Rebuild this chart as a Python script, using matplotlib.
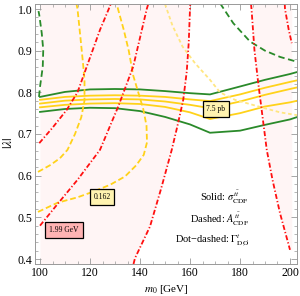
import matplotlib
matplotlib.use("Agg")
import matplotlib.pyplot as plt
from matplotlib.ticker import MultipleLocator

plt.rcParams['font.family'] = ['Liberation Serif', 'DejaVu Serif']
plt.rcParams['mathtext.fontset'] = 'stix'

# ---- data ----
sx = [100, 110, 120, 130, 140, 150, 160, 168, 180, 190, 200, 203]
green_top = [0.789, 0.801, 0.807, 0.808, 0.807, 0.803, 0.798, 0.795, 0.814, 0.830, 0.844, 0.849]
yel_1 = [0.782, 0.789, 0.792, 0.793, 0.792, 0.789, 0.783, 0.779, 0.795, 0.811, 0.825, 0.829]
yel_2 = [0.773, 0.780, 0.783, 0.784, 0.783, 0.778, 0.770, 0.762, 0.778, 0.794, 0.808, 0.812]
yel_3 = [0.764, 0.770, 0.773, 0.774, 0.772, 0.765, 0.752, 0.736, 0.750, 0.766, 0.776, 0.780]
green_bot = [0.753, 0.760, 0.763, 0.762, 0.755, 0.741, 0.723, 0.703, 0.708, 0.722, 0.735, 0.741]

# dashed (asymmetry) contours
ad1_x = [99.2, 104, 108, 111, 114, 116.5, 117.8, 117.8, 117.2, 116.2, 115.0, 114.6]
ad1_y = [0.609, 0.625, 0.642, 0.662, 0.700, 0.740, 0.780, 0.830, 0.870, 0.930, 1.000, 1.012]
ad2_x = [99.2, 107, 115, 121, 128, 134, 138.5, 141.5, 142.8, 142.6, 141.3, 139.3, 137.3, 135.5, 133.5, 131.2, 130.8]
ad2_y = [0.513, 0.535, 0.548, 0.561, 0.578, 0.598, 0.625, 0.650, 0.680, 0.720, 0.760, 0.800, 0.840, 0.900, 0.950, 1.000, 1.012]
ad3_x = [150, 153, 157, 162, 168, 172, 178, 188, 196, 203]
ad3_y = [1.012, 0.960, 0.910, 0.870, 0.830, 0.800, 0.782, 0.765, 0.752, 0.745]
gd1_x = [99.6, 100.0, 101.1, 101.3, 100.7, 99.7, 99.4]
gd1_y = [0.789, 0.813, 0.861, 0.902, 0.942, 0.986, 0.995]
gd2_x = [172, 177.3, 184, 190, 196, 203]
gd2_y = [1.014, 0.966, 0.922, 0.900, 0.885, 0.873]

# dot-dashed (width) contours
wa_x = [99.7, 105, 110.7, 115, 118, 121, 124, 127.5, 128.3]
wa_y = [0.678, 0.715, 0.758, 0.800, 0.850, 0.900, 0.950, 1.000, 1.012]
wb_x = [100, 107.3, 115, 124, 131.3, 137.3, 142.7, 143.3]
wb_y = [0.480, 0.534, 0.590, 0.662, 0.766, 0.862, 1.000, 1.012]
wc_x = [137.4, 138, 141, 144, 148.5, 152.7, 155, 157.3, 158.7, 159.5, 160.0, 160.1]
wc_y = [0.388, 0.402, 0.440, 0.478, 0.570, 0.662, 0.720, 0.782, 0.850, 0.920, 1.000, 1.012]
wd_x = [184.4, 184.6, 185.8, 187.3, 190.7, 193.0, 196.0, 200.0]
wd_y = [1.012, 1.000, 0.900, 0.822, 0.662, 0.590, 0.510, 0.422]
we_x = [197.9, 198.0, 198.6, 199.5, 200.7]
we_y = [1.012, 1.000, 0.980, 0.950, 0.918]

labels = [("7.5 pb", 170.4, 0.760, '#fff3b0'),
          ("0.162", 124.8, 0.549, '#fff3b0'),
          ("1.99 GeV", 109.6, 0.470, '#ffb3b3')]

fig = plt.figure(figsize=(3.0, 2.96), dpi=100)
ax = fig.add_axes([35/300, 32/296, 262/300, 260/296])
ax.set_xlim(98, 202.8)
ax.set_ylim(0.388, 1.012)

pink = '#fff5f5'
ax.fill_betweenx(wc_y, 100, wc_x, color=pink, lw=0, zorder=0)
ax.fill_betweenx(wd_y, wd_x, 200.7, color=pink, lw=0, zorder=0)

green = '#2a8a2a'
gold = '#ffd21a'
lw = 1.3
ax.plot(sx, green_top, color=green, lw=lw)
ax.plot(sx, green_bot, color=green, lw=lw)
for ys in (yel_1, yel_2, yel_3):
    ax.plot(sx, ys, color=gold, lw=lw)

ax.plot(ad1_x, ad1_y, color=gold, lw=1.3, dashes=(3.2, 1.6))
ax.plot(ad2_x, ad2_y, color=gold, lw=1.3, dashes=(3.2, 1.6))
ax.plot(ad3_x, ad3_y, color='#ffe680', lw=1.3, dashes=(2.0, 1.5))
ax.plot(gd1_x, gd1_y, color=green, lw=1.3, dashes=(3.6, 2.0))
ax.plot(gd2_x, gd2_y, color=green, lw=1.3, dashes=(3.6, 2.0))

red = '#ff1010'
for xs, ys in ((wa_x, wa_y), (wb_x, wb_y), (wc_x, wc_y), (wd_x, wd_y), (we_x, we_y)):
    ax.plot(xs, ys, color=red, lw=1.3, dashes=(2.8, 1.2, 0.7, 1.2))

for txt, x, y, fc in labels:
    ax.text(x, y, txt, fontsize=5.5, ha='center', va='center', zorder=5,
            bbox=dict(boxstyle='square,pad=0.5', fc=fc, ec='black', lw=0.9))

tx = 100 + (249 - 40) / 2.5
ax.text(tx, 1.0 - (198 - 9) / 417, r"Solid: $\sigma^{t\bar{t}}_{\rm CDF}$", fontsize=7.5, ha='right', va='center')
ax.text(tx, 1.0 - (220 - 9) / 417, r"Dashed: $A^{t\bar{t}}_{\rm CDF}$", fontsize=7.5, ha='right', va='center')
ax.text(tx, 1.0 - (241 - 9) / 417, r"Dot−dashed: $\Gamma^{t}_{\rm D\O}$", fontsize=7.5, ha='right', va='center')

ax.set_xlabel(r"$m_0$ [GeV]", fontsize=8, labelpad=3)
ax.set_ylabel(r"$|\lambda|$", fontsize=9.5, labelpad=1)
ax.yaxis.set_label_coords(-0.075, (264 - 143) / 260)

ax.xaxis.set_major_locator(MultipleLocator(20))
ax.xaxis.set_minor_locator(MultipleLocator(5))
ax.yaxis.set_major_locator(MultipleLocator(0.1))
ax.yaxis.set_minor_locator(MultipleLocator(0.02))
ax.set_yticks([0.4, 0.5, 0.6, 0.7, 0.8, 0.9, 1.0])
ax.set_yticklabels(['0.4', '0.5', '0.6', '0.7', '0.8', '0.9', '1.0'])
ax.tick_params(which='both', direction='in', top=True, right=True, color='#999999', labelsize=8.5, pad=2)
ax.tick_params(which='major', length=4, width=0.6)
ax.tick_params(which='minor', length=2, width=0.5)
for s in ax.spines.values():
    s.set_color('#999999')
    s.set_linewidth(0.7)

fig.savefig('out.png', dpi=100)
